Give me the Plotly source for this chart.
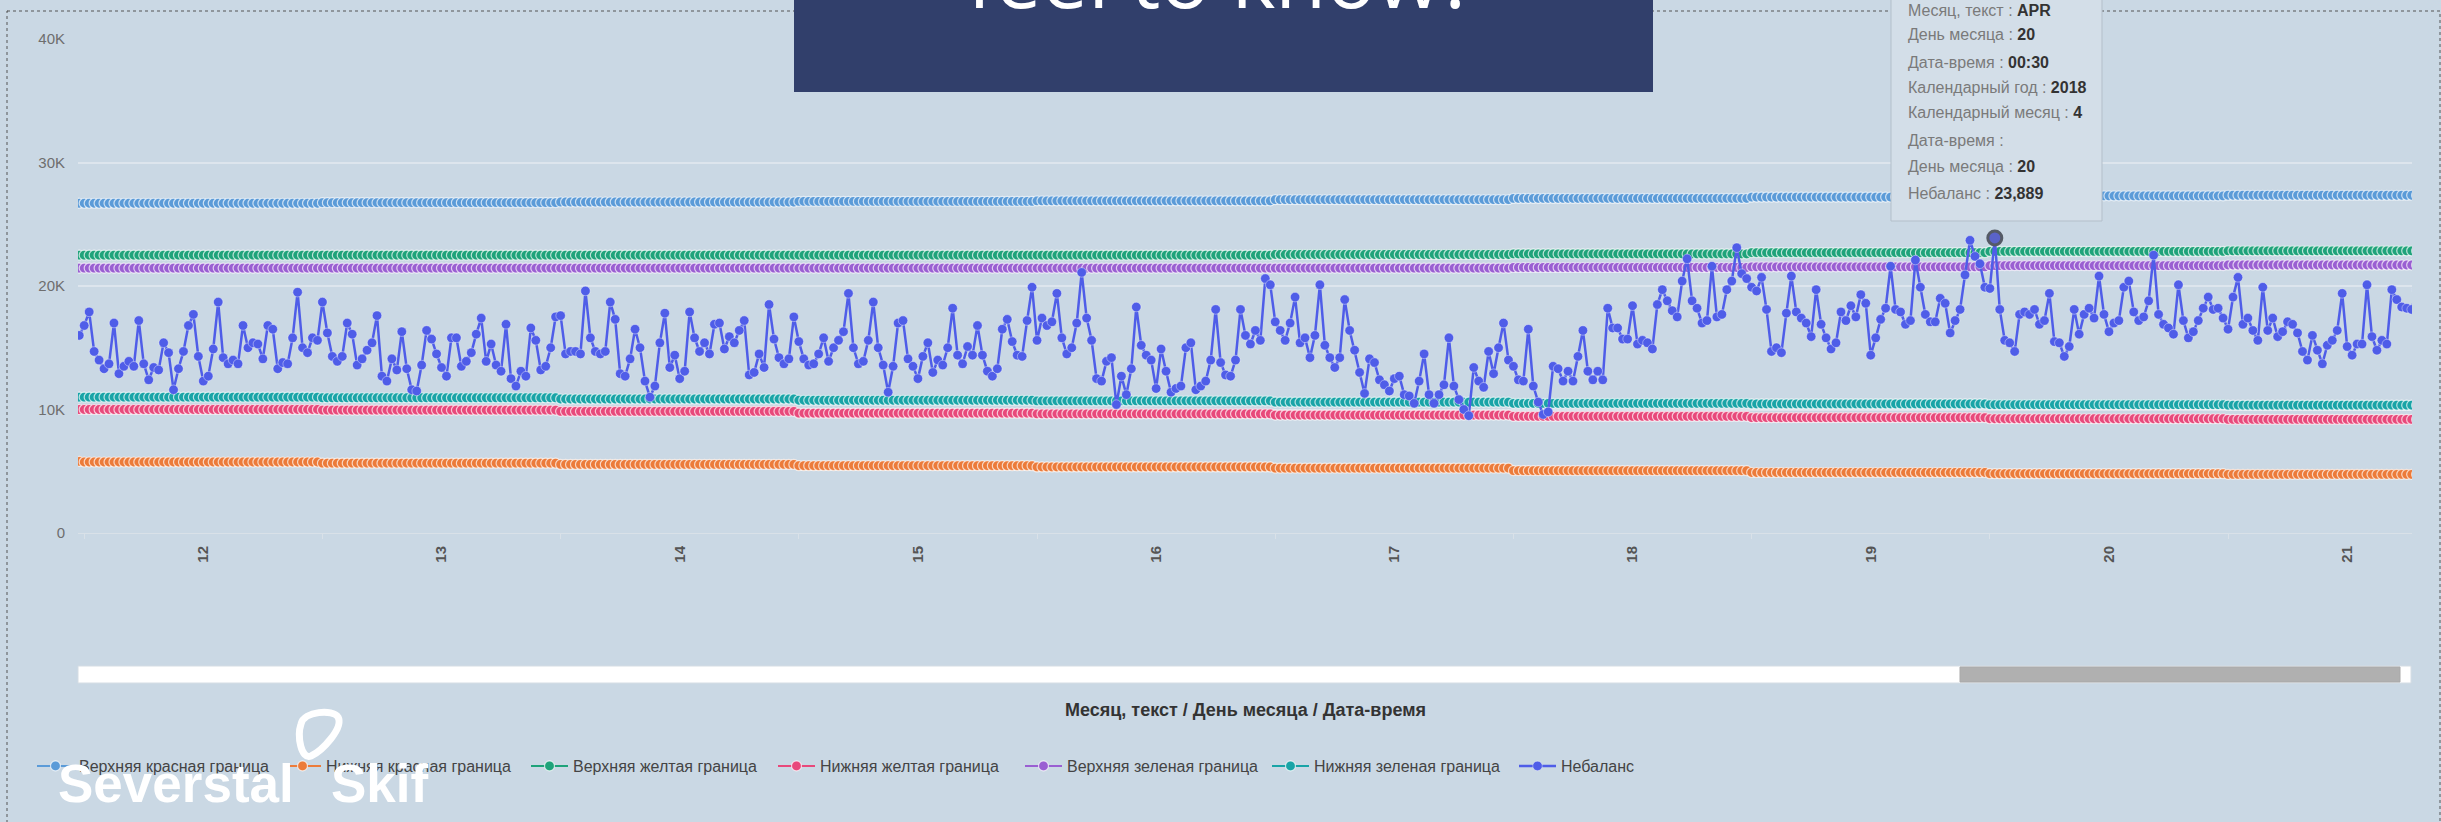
import pandas as pd
import plotly.graph_objects as go

# ---------------- data ----------------
# Небаланс, thousands, one value every 30 minutes starting 2018-04-11 23:30
imbalance_k = [
    16.0, 16.8, 17.9, 14.7, 14.0, 13.3, 13.7, 17.0, 12.9, 13.5,
    13.9, 13.5, 17.2, 13.7, 12.4, 13.4, 13.2, 15.4, 14.6, 11.6,
    13.3, 14.7, 16.8, 17.7, 14.3, 12.3, 12.7, 14.9, 18.7, 14.2,
    13.7, 14.0, 13.7, 16.8, 15.0, 15.4, 15.3, 14.1, 16.8, 16.5,
    13.3, 13.8, 13.7, 15.8, 19.5, 15.0, 14.6, 15.8, 15.6, 18.7,
    16.2, 14.3, 13.9, 14.3, 17.0, 16.1, 13.6, 14.1, 14.8, 15.4,
    17.6, 12.7, 12.3, 14.1, 13.2, 16.3, 13.3, 11.6, 11.5, 13.6,
    16.4, 15.7, 14.5, 13.4, 12.7, 15.8, 15.8, 13.5, 13.9, 14.6,
    16.1, 17.4, 13.9, 15.3, 13.6, 13.1, 16.9, 12.5, 11.9, 13.1,
    12.7, 16.6, 15.6, 13.2, 13.5, 15.0, 17.5, 17.6, 14.5, 14.7,
    14.7, 14.5, 19.6, 15.8, 14.7, 14.5, 14.7, 18.7, 17.3, 12.9,
    12.7, 14.1, 16.5, 15.0, 12.3, 11.0, 11.9, 15.4, 17.8, 13.4,
    14.4, 12.5, 13.1, 17.9, 15.8, 14.7, 15.4, 14.5, 16.9, 17.0,
    14.9, 15.9, 15.4, 16.4, 17.2, 12.8, 13.0, 14.5, 13.4, 18.5,
    15.7, 14.2, 13.7, 14.1, 17.5, 15.5, 14.1, 13.6, 13.7, 14.5,
    15.8, 13.9, 15.0, 15.6, 16.3, 19.4, 15.0, 13.7, 13.9, 15.6,
    18.7, 15.0, 13.6, 11.4, 13.5, 17.0, 17.2, 14.1, 13.5, 12.5,
    14.3, 15.4, 13.0, 14.0, 13.6, 15.0, 18.2, 14.4, 13.7, 15.1,
    14.4, 16.8, 14.4, 13.1, 12.7, 13.3, 16.5, 17.3, 15.5, 14.4,
    14.3, 17.2, 19.9, 15.6, 17.4, 16.8, 17.1, 19.4, 15.8, 14.5,
    15.0, 17.0, 21.1, 17.4, 15.6, 12.5, 12.3, 13.9, 14.2, 10.4,
    12.7, 11.2, 13.3, 18.3, 15.2, 14.4, 14.0, 11.7, 14.9, 13.1,
    11.4, 11.7, 11.9, 15.0, 15.4, 11.6, 11.9, 12.3, 14.0, 18.1,
    13.8, 12.8, 12.7, 14.0, 18.1, 16.0, 15.3, 16.4, 15.6,
    20.6, 20.1, 17.1, 16.4, 15.6, 17.0, 19.1, 15.4, 15.8, 14.2,
    16.0, 20.1, 15.2, 14.2, 13.4, 14.2, 18.9, 16.4, 14.8, 13.0,
    11.3, 14.1, 13.8, 12.4, 12.0, 11.5, 12.5, 12.7, 11.2, 11.1,
    10.5, 12.3, 14.5, 11.2, 10.5, 11.2, 12.0, 15.8, 11.9, 10.8,
    10.0, 9.5, 13.4, 12.3, 11.8, 14.7, 12.9, 15.0, 17.0, 14.0,
    13.5, 12.4, 12.3, 16.5, 11.9, 10.6, 9.6, 9.8, 13.5, 13.3,
    12.3, 13.1, 12.3, 14.3, 16.4, 13.1, 12.4, 13.1, 12.4, 18.2,
    16.6, 16.6, 15.7, 15.7, 18.4, 15.3, 15.6, 15.4, 14.9, 18.5,
    19.7, 18.8, 18.0, 17.5, 20.4, 22.2, 18.8, 18.2, 17.0, 17.2,
    21.6, 17.5, 17.7, 19.7, 20.4, 23.1, 21.0, 20.6, 19.9, 19.6,
    20.7, 18.1, 14.7, 15.0, 14.6, 17.8, 20.8, 17.9, 17.4, 17.0,
    15.9, 19.7, 16.9, 15.8, 14.9, 15.4, 17.9, 17.2, 18.4,
    17.5, 19.3, 18.6, 14.4, 15.8, 17.3, 18.2, 21.6, 18.1, 17.9,
    16.9, 17.2, 22.1, 19.9, 17.7, 17.1, 17.1, 19.0, 18.6, 16.2,
    17.2, 18.1, 20.9, 23.7, 22.4, 21.8, 19.9, 19.8, 23.889,
    18.1, 15.6, 15.4, 14.7, 17.7, 17.9, 17.7, 18.1, 16.9, 17.2,
    19.4, 15.5, 15.4, 14.3, 15.1, 18.1, 16.1, 17.7, 18.2, 17.4,
    20.8, 17.7, 16.3, 17.0, 17.2, 19.9, 20.4, 17.9, 17.2, 17.5,
    18.8, 22.5, 17.7, 16.9, 16.6, 16.1, 20.1, 17.2, 15.8, 16.3,
    17.2, 18.2, 19.1, 18.1, 18.2, 17.4, 16.5, 19.1, 20.7, 16.9,
    17.4, 16.4, 15.6, 19.9, 16.4, 17.4, 15.9, 16.3, 17.1, 16.9,
    16.2, 14.7, 14.0, 16.0, 14.8, 13.7, 15.2, 15.6, 16.4, 19.4,
    15.1, 14.4, 15.3, 15.3, 20.1, 15.9, 14.8, 15.6, 15.3, 19.7,
    18.9, 18.3, 18.2, 18.1, 19.7, 20.1,
]

# daily boundary levels (thousands), for days 11..21 of April 2018
boundary_days = [11, 12, 13, 14, 15, 16, 17, 18, 19, 20, 21]
upper_red_k = [26.7, 26.7, 26.75, 26.8, 26.85, 26.9, 27.0, 27.1, 27.2, 27.3, 27.35]
lower_red_k = [5.8, 5.75, 5.65, 5.55, 5.45, 5.35, 5.25, 5.05, 4.9, 4.8, 4.75]
upper_yellow_k = [22.5, 22.5, 22.5, 22.5, 22.5, 22.5, 22.55, 22.6, 22.7, 22.8, 22.85]
lower_yellow_k = [10.0, 10.0, 9.95, 9.85, 9.7, 9.65, 9.55, 9.45, 9.35, 9.25, 9.2]
upper_green_k = [21.45, 21.45, 21.45, 21.45, 21.45, 21.45, 21.45, 21.5, 21.55, 21.65, 21.7]
lower_green_k = [11.0, 11.0, 10.95, 10.85, 10.75, 10.7, 10.6, 10.5, 10.45, 10.4, 10.35]

day_labels = ["12", "13", "14", "15", "16", "17", "18", "19", "20", "21"]
y_tick_values = [0, 10000, 20000, 30000, 40000]
y_tick_text = ["0", "10K", "20K", "30K", "40K"]

series_names = [
    "Верхняя красная граница", "Нижняя красная граница",
    "Верхняя желтая граница", "Нижняя желтая граница",
    "Верхняя зеленая граница", "Нижняя зеленая граница",
]
series_colors = ["#5b9bd8", "#ec7b3a", "#1fa37a", "#e8497b", "#9a5fd2", "#19a4a7"]
imbalance_color = "#4f5de8"

# ---------------- build ----------------
start_time = pd.Timestamp("2018-04-11 23:30")
times = pd.date_range(start_time, periods=len(imbalance_k), freq="30min")
imbalance = [round(v * 1000) for v in imbalance_k]
day_pos = {d: i for i, d in enumerate(boundary_days)}


def expand(vals):
    return [vals[day_pos[t.day]] * 1000 for t in times]


boundaries = [upper_red_k, lower_red_k, upper_yellow_k, lower_yellow_k, upper_green_k, lower_green_k]

fig = go.Figure()
for name, vals, col in zip(series_names, boundaries, series_colors):
    fig.add_trace(go.Scatter(
        x=times, y=expand(vals), name=name, mode="lines+markers",
        line=dict(color=col, width=2),
        marker=dict(color=col, size=10, line=dict(color="rgba(255,255,255,0.7)", width=1.2)),
    ))

fig.add_trace(go.Scatter(
    x=times, y=imbalance, name="Небаланс", mode="lines+markers",
    line=dict(color=imbalance_color, width=2.5),
    marker=dict(color=imbalance_color, size=9.5, line=dict(color="rgba(255,255,255,0.5)", width=0.8)),
))

# highlighted (hovered) point
idx = max(range(len(imbalance)), key=lambda i: imbalance[i])
fig.add_trace(go.Scatter(
    x=[times[idx]], y=[imbalance[idx]], mode="markers", showlegend=False,
    marker=dict(color="#5a63c8", size=14, line=dict(color="#555b66", width=3)),
))

# ---------------- layout helpers (pixel -> paper) ----------------
W, H = 2441, 822
L, R, T, B = 78, 2412, 39, 533


def px(x):
    return (x - L) / (R - L)


def py(y):
    return (B - y) / (B - T)


day_ticks = [pd.Timestamp(2018, 4, int(d), 12) for d in day_labels]
day_bounds = [pd.Timestamp(2018, 4, int(d)) for d in day_labels] + [pd.Timestamp(2018, 4, 22)]

bg = "#cad8e4"
font_family = "Liberation Sans, Arial, sans-serif"

fig.update_layout(
    width=W, height=H,
    margin=dict(l=L, r=W - R, t=T, b=H - B),
    paper_bgcolor=bg, plot_bgcolor=bg,
    font=dict(family=font_family, color="#555"),
    hovermode=False,
    legend=dict(
        orientation="h", x=px(32), xanchor="left", y=py(766), yanchor="middle",
        font=dict(size=16, color="#444"), itemwidth=37,
        entrywidth=195, entrywidthmode="pixels",
        bgcolor="rgba(0,0,0,0)",
    ),
    xaxis=dict(
        type="date",
        range=[pd.Timestamp("2018-04-11 23:22:30"), pd.Timestamp("2018-04-21 18:32")],
        tickmode="array", tickvals=day_ticks, ticktext=day_labels,
        tickangle=-90, ticks="", showgrid=False, zeroline=False,
        tickfont=dict(size=15, color="#555", family=font_family, weight="bold"),
        ticklabelstandoff=6,
        showline=True, linecolor="#d9e1e8", linewidth=1,
        minor=dict(tickmode="array", tickvals=day_bounds, ticks="outside", ticklen=5,
                   tickcolor="#d9e1e8", showgrid=False),
    ),
    yaxis=dict(
        range=[0, 40000], tickmode="array", tickvals=y_tick_values, ticktext=y_tick_text,
        showgrid=True, gridcolor="#dde5ed", gridwidth=1.5, zeroline=False,
        tickfont=dict(size=15, color="#6e6e6e"), ticklabelstandoff=12,
    ),
)

shapes = [
    # dotted frame
    dict(type="rect", xref="paper", yref="paper", x0=px(7), x1=px(2440), y0=py(11), y1=py(900),
         line=dict(color="#555", width=1, dash="dot"), fillcolor="rgba(0,0,0,0)", layer="above"),
    # scrollbar track and thumb
    dict(type="rect", xref="paper", yref="paper", x0=px(78), x1=px(2411), y0=py(666), y1=py(683),
         line=dict(color="#d5dde4", width=1), fillcolor="white", layer="above"),
    dict(type="rect", xref="paper", yref="paper", x0=px(1960), x1=px(2400), y0=py(667), y1=py(682),
         line=dict(color="#a9a9a9", width=1), fillcolor="#b0b0b0", layer="above"),
    # title box (overlay)
    dict(type="rect", xref="paper", yref="paper", x0=px(794), x1=px(1653), y0=py(-20), y1=py(92),
         line=dict(width=0), fillcolor="#313f6b", layer="above"),
    # tooltip box (overlay)
    dict(type="rect", xref="paper", yref="paper", x0=px(1891), x1=px(2102), y0=py(-10), y1=py(221),
         line=dict(color="#b3bfca", width=1), fillcolor="#d3dee8", layer="above"),
]


def path_px(cmds):
    out = []
    for c in cmds:
        if isinstance(c, str):
            out.append(c)
        else:
            out.append(f"{px(c[0]):.5f},{py(c[1]):.5f}")
    return " ".join(out)


logo_path = path_px(["M", (301, 724), "C", (304, 711), (333, 709), (338, 717), "C", (344, 728),
                     (322, 751), (311, 756), "C", (301, 760), (297, 736), (301, 724), "Z"])
shapes.append(dict(type="path", xref="paper", yref="paper", path=logo_path,
                   line=dict(color="white", width=7), fillcolor="rgba(0,0,0,0)", layer="above"))
fig.update_layout(shapes=shapes)

annotations = [
    dict(text="<b>Месяц, текст / День месяца / Дата-время</b>", x=0.5, y=py(710),
         xref="paper", yref="paper", showarrow=False, xanchor="center", yanchor="middle",
         font=dict(size=18, color="#333")),
    dict(text="feel to know?", x=px(1221), y=py(-25), xref="paper", yref="paper",
         showarrow=False, xanchor="center", yanchor="middle",
         font=dict(size=83, color="white", family="Open Sans, sans-serif")),
    dict(text="<b>Severstal</b>", x=px(56), y=py(783), xref="paper", yref="paper",
         showarrow=False, xanchor="left", yanchor="middle",
         font=dict(size=53, color="white", family=font_family)),
    dict(text="<b>Skif</b>", x=px(329), y=py(783), xref="paper", yref="paper",
         showarrow=False, xanchor="left", yanchor="middle",
         font=dict(size=53, color="white", family=font_family)),
]

t = times[idx]
tooltip_lines = [
    ("Месяц, текст", t.strftime("%b").upper()),
    ("День месяца", str(t.day)),
    ("Дата-время", t.strftime("%H:%M")),
    ("Календарный год", str(t.year)),
    ("Календарный месяц", str(t.month)),
    ("Дата-время", ""),
    ("День месяца", str(t.day)),
    ("Небаланс", f"{imbalance[idx]:,}"),
]
line_y = [10, 35, 62, 87, 113, 140, 166, 193]
for (lab, val), yy in zip(tooltip_lines, line_y):
    txt = f"{lab} : <span style='color:#333'><b>{val}</b></span>" if val else f"{lab} :"
    annotations.append(dict(text=txt, x=px(1906), y=py(yy), xref="paper", yref="paper",
                            showarrow=False, xanchor="left", yanchor="middle",
                            font=dict(size=16, color="#7a7a7a")))

fig.update_layout(annotations=annotations)

fig.write_html(
    "out.html",
    config={"displayModeBar": False},
    post_script="document.body.style.margin='0';document.body.style.background='#cad8e4';",
)
